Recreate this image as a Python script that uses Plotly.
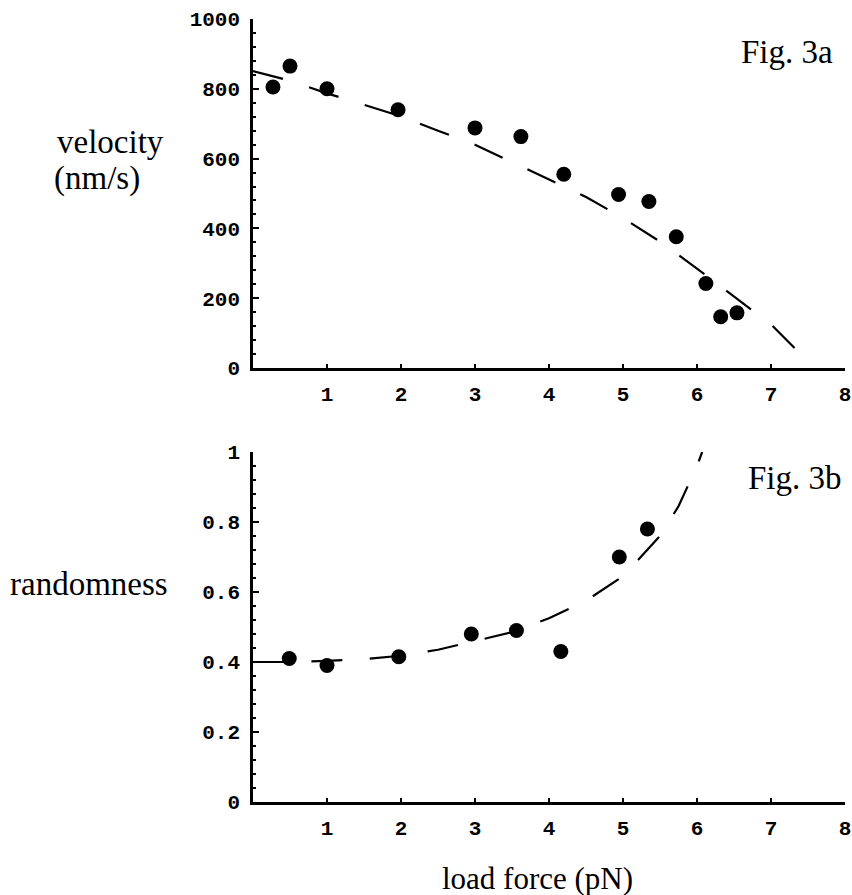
import plotly.graph_objects as go
from plotly.subplots import make_subplots

# ---- data ----
vel_force = [0.27, 0.50, 1.00, 1.96, 3.00, 3.62, 4.20, 4.94, 5.35, 5.72, 6.12, 6.32, 6.54]
velocity = [805, 865, 800, 740, 688, 663, 555, 497, 477, 376, 242, 147, 158]

vel_fit_force = [0, 0.5, 1, 1.5, 2, 2.5, 3, 3.5, 4, 4.5, 5, 5.5, 6, 6.5, 7, 7.33]
vel_fit = [851, 823, 787, 755, 721, 680, 640, 590, 540, 490, 430, 362, 285, 205, 125, 55]

rnd_force = [0.49, 1.00, 1.97, 2.95, 3.56, 4.16, 4.95, 5.33]
randomness = [0.41, 0.39, 0.415, 0.48, 0.49, 0.43, 0.70, 0.78]

rnd_fit_force = [0, 0.5, 1, 1.5, 2, 2.5, 3, 3.5, 4, 4.5, 5, 5.5, 5.75, 6, 6.07]
rnd_fit = [0.40, 0.40, 0.403, 0.408, 0.418, 0.435, 0.46, 0.485, 0.525, 0.575, 0.645, 0.76, 0.845, 0.96, 1.0]

x_ticks = [1, 2, 3, 4, 5, 6, 7, 8]
vel_ticks = [0, 200, 400, 600, 800, 1000]
rnd_ticks = [0, 0.2, 0.4, 0.6, 0.8, 1]
rnd_ticktext = ["0", "0.2", "0.4", "0.6", "0.8", "1"]

W, H = 852, 895
fig = make_subplots(rows=2, cols=1)

dash = "31px,27.4px"
fig.add_trace(go.Scatter(x=vel_fit_force, y=vel_fit, mode="lines",
                         line=dict(color="black", width=2.2, dash=dash)), row=1, col=1)
fig.add_trace(go.Scatter(x=vel_force, y=velocity, mode="markers",
                         marker=dict(color="black", size=15)), row=1, col=1)
fig.add_trace(go.Scatter(x=rnd_fit_force, y=rnd_fit, mode="lines",
                         line=dict(color="black", width=2.2, dash=dash)), row=2, col=1)
fig.add_trace(go.Scatter(x=rnd_force, y=randomness, mode="markers",
                         marker=dict(color="black", size=15)), row=2, col=1)

tickfont = dict(family="Liberation Mono", size=21, color="black", weight="bold")
xdom = [253 / W, 845 / W]
common_x = dict(range=[0, 8], tickvals=x_ticks, showline=True, linecolor="black",
                linewidth=2.5, ticks="inside", ticklen=4, tickwidth=2, tickcolor="black",
                showgrid=False, zeroline=False, tickfont=tickfont, ticklabelstandoff=5,
                domain=xdom, automargin=False)
common_y = dict(showline=True, linecolor="black", linewidth=2.5, ticks="inside",
                ticklen=6, tickwidth=2, tickcolor="black", showgrid=False, zeroline=False,
                tickfont=tickfont, ticklabelstandoff=6, automargin=False)

fig.update_xaxes(**common_x)
fig.update_yaxes(**common_y)
fig.update_yaxes(range=[0, 1000], tickvals=vel_ticks,
                 minor=dict(dtick=40, ticks="inside", ticklen=3, tickwidth=1.5, tickcolor="black"),
                 domain=[1 - 368 / H, 1 - 19 / H], row=1, col=1)
fig.update_yaxes(range=[0, 1], tickvals=rnd_ticks, ticktext=rnd_ticktext,
                 minor=dict(dtick=0.04, ticks="inside", ticklen=3, tickwidth=1.5, tickcolor="black"),
                 domain=[1 - 802 / H, 1 - 452 / H], row=2, col=1)

serif = dict(family="Liberation Serif", size=33, color="black")
ann = [
    dict(text="Fig. 3a", x=787 / W, y=1 - 52 / H, xanchor="center", yanchor="middle"),
    dict(text="Fig. 3b", x=795 / W, y=1 - 478 / H, xanchor="center", yanchor="middle"),
    dict(text="velocity", x=55 / W, y=1 - 142 / H, xanchor="left", yanchor="middle"),
    dict(text="(nm/s)", x=52 / W, y=1 - 178 / H, xanchor="left", yanchor="middle"),
    dict(text="randomness", x=8 / W, y=1 - 584 / H, xanchor="left", yanchor="middle"),
]
for a in ann:
    fig.add_annotation(xref="paper", yref="paper", showarrow=False, font=serif, **a)
fig.add_annotation(xref="paper", yref="paper", showarrow=False,
                   font=dict(family="Liberation Serif", size=31, color="black"),
                   text="load force (pN)", x=537 / W, y=1 - 878 / H,
                   xanchor="center", yanchor="middle")

fig.update_layout(width=W, height=H, margin=dict(l=0, r=0, t=0, b=0, autoexpand=False),
                  paper_bgcolor="white", plot_bgcolor="white", showlegend=False)
fig.write_html("out.html", config={"displayModeBar": False},
               post_script="document.body.style.margin='0';document.body.style.overflow='hidden';")
